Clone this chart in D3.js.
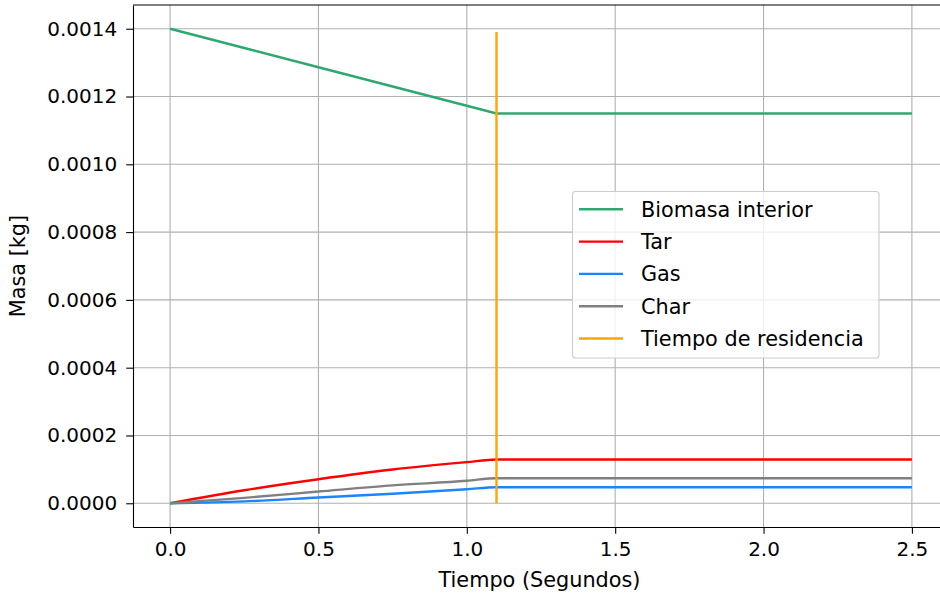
<!DOCTYPE html>
<html>
<head>
<meta charset="utf-8">
<script src="https://cdn.jsdelivr.net/npm/d3@7"></script>
<style>
  body { margin: 0; background: #fff; }
  svg { display: block; font-family: "DejaVu Sans", sans-serif; }
</style>
</head>
<body>
<script>
// data
var tiempo   = [0, 0.25, 0.5, 0.75, 1.0, 1.1, 2.5];
var biomasa  = [0.0014, 0.0013432, 0.0012864, 0.0012295, 0.0011727, 0.00115, 0.00115];
var tar      = [0, 0.0000385, 0.000071, 0.0000995, 0.0001213, 0.000129, 0.000129];
var gas      = [0, 0.0000055, 0.0000169, 0.0000283, 0.0000414, 0.0000474, 0.0000474];
var charr    = [0, 0.000016, 0.0000346, 0.0000528, 0.0000663, 0.000074, 0.000074];
var residencia = { t: 1.1, y0: 0, y1: 0.00139 };

var xTicks = [0, 0.5, 1.0, 1.5, 2.0, 2.5];
var yTicks = [0, 0.0002, 0.0004, 0.0006, 0.0008, 0.0010, 0.0012, 0.0014];

var series = [
  { name: "Biomasa interior", vals: biomasa, color: "#2ea86f", smooth: false },
  { name: "Tar", vals: tar, color: "#ff0000", smooth: true },
  { name: "Gas", vals: gas, color: "#1a85ff", smooth: true },
  { name: "Char", vals: charr, color: "#808080", smooth: true }
];
var legendItems = [
  { name: "Biomasa interior", color: "#2ea86f" },
  { name: "Tar", color: "#ff0000" },
  { name: "Gas", color: "#1a85ff" },
  { name: "Char", color: "#808080" },
  { name: "Tiempo de residencia", color: "#ffa500" }
];

var w = 940, h = 599;
var mLeft = 133, mTop = 5, mRight = 949, mBottom = 527;
var fsTick = 20, fsLabel = 20.8;
var lw = 2.4;

var svg = d3.select("body").append("svg")
  .attr("width", w).attr("height", h);

var x = d3.scaleLinear().domain([-0.125, 2.625]).range([mLeft, mRight]);
var y = d3.scaleLinear().domain([-0.00007, 0.00147]).range([mBottom, mTop]);

// grid
svg.append("g").selectAll("line").data(xTicks).enter().append("line")
  .attr("x1", d => x(d)).attr("x2", d => x(d))
  .attr("y1", mTop).attr("y2", mBottom)
  .style("stroke", "#b0b0b0").style("stroke-width", 1.1);
svg.append("g").selectAll("line").data(yTicks).enter().append("line")
  .attr("x1", mLeft).attr("x2", mRight)
  .attr("y1", d => y(d)).attr("y2", d => y(d))
  .style("stroke", "#b0b0b0").style("stroke-width", 1.1);

// lines
var lineSmooth = d3.line().x((d, i) => x(tiempo[i])).y(d => y(d)).curve(d3.curveMonotoneX);
var lineStraight = d3.line().x((d, i) => x(tiempo[i])).y(d => y(d));
svg.append("g").selectAll("path").data(series).enter().append("path")
  .attr("d", d => d.smooth ? lineSmooth(d.vals) : lineStraight(d.vals))
  .style("fill", "none")
  .style("stroke", d => d.color)
  .style("stroke-width", lw);

svg.append("line")
  .attr("x1", x(residencia.t)).attr("x2", x(residencia.t))
  .attr("y1", y(residencia.y0)).attr("y2", y(residencia.y1))
  .style("stroke", "#ffa500").style("stroke-width", lw);

// axes
var xAxis = d3.axisBottom(x).tickValues(xTicks).tickFormat(d3.format(".1f"))
  .tickSizeInner(6.8).tickSizeOuter(0).tickPadding(8);
var yAxis = d3.axisLeft(y).tickValues(yTicks).tickFormat(d3.format(".4f"))
  .tickSizeInner(6.8).tickSizeOuter(0).tickPadding(9);

var gx = svg.append("g").attr("transform", "translate(0," + mBottom + ")").call(xAxis);
var gy = svg.append("g").attr("transform", "translate(" + mLeft + ",0)").call(yAxis);
[gx, gy].forEach(function(g) {
  g.selectAll("text").style("font-size", fsTick + "px").style("fill", "#000")
    .style("font-family", "DejaVu Sans, sans-serif");
  g.selectAll("line").style("stroke", "#000").style("stroke-width", 1.1);
  g.select(".domain").style("stroke", "#000").style("stroke-width", 1.1);
});

// top spine
svg.append("line").attr("x1", mLeft).attr("x2", mRight).attr("y1", mTop).attr("y2", mTop)
  .style("stroke", "#000").style("stroke-width", 1.1);

// axis labels
svg.append("text").text("Tiempo (Segundos)")
  .attr("x", 539.5).attr("y", 587)
  .attr("text-anchor", "middle").style("font-size", fsLabel + "px");
svg.append("text").text("Masa [kg]")
  .attr("transform", "translate(24.5," + (mTop + mBottom) / 2 + ") rotate(-90)")
  .attr("text-anchor", "middle").style("font-size", fsLabel + "px");

// legend
var lg = svg.append("g");
lg.append("rect")
  .attr("x", 572.5).attr("y", 191.5).attr("width", 306.5).attr("height", 166.5)
  .attr("rx", 3)
  .style("fill", "rgba(255,255,255,0.8)").style("stroke", "#cccccc").style("stroke-width", 1.1);
var rows = lg.selectAll("g.row").data(legendItems).enter().append("g")
  .attr("class", "row")
  .attr("transform", (d, i) => "translate(0," + (209.3 + i * 32.3) + ")");
rows.append("line").attr("x1", 579).attr("x2", 623).attr("y1", 0).attr("y2", 0)
  .style("stroke", d => d.color).style("stroke-width", lw);
rows.append("text").text(d => d.name)
  .attr("x", 641).attr("y", 7.4).style("font-size", fsLabel + "px");
</script>
</body>
</html>
